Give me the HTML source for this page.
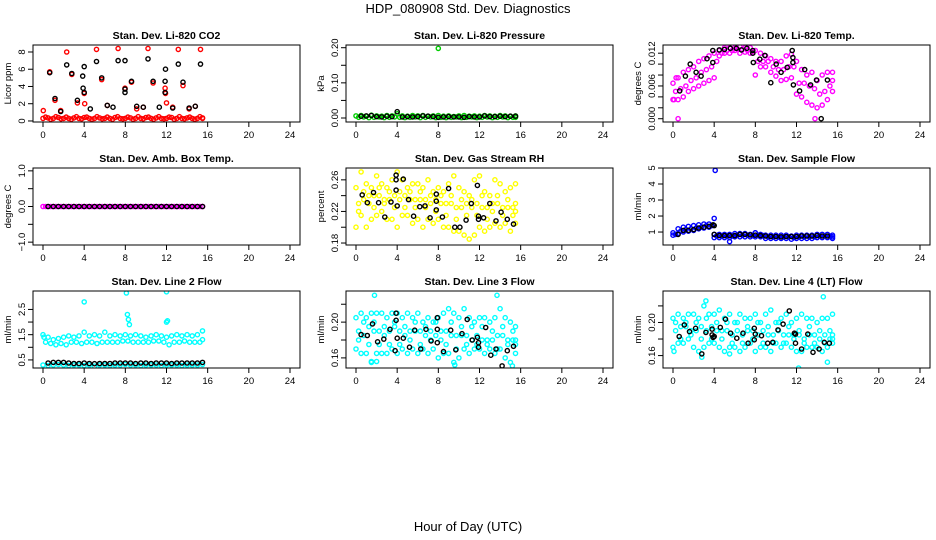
<!DOCTYPE html>
<html><head><meta charset="utf-8">
<style>
html,body{margin:0;padding:0;background:#fff;}
svg{display:block;font-family:"Liberation Sans",sans-serif;}
</style></head>
<body>
<svg id="chart" width="936" height="540" viewBox="0 0 936 540">
<text x="468" y="13" text-anchor="middle" font-size="13">HDP_080908  Std. Dev. Diagnostics</text>
<text x="468" y="531" text-anchor="middle" font-size="13">Hour of Day (UTC)</text>
</svg>
<script>
// shared time grids (hours UTC)
const T  = [0,0.5,1,1.5,2,2.5,3,3.5,4,4.5,5,5.5,6,6.5,7,7.5,8,8.5,9,9.5,10,10.5,11,11.5,12,12.5,13,13.5,14,14.5,15,15.5];
const T2 = [0.25,0.75,1.25,1.75,2.25,2.75,3.25,3.75,4.25,4.75,5.25,5.75,6.25,6.75,7.25,7.75,8.25,8.75,9.25,9.75,10.25,10.75,11.25,11.75,12.25,12.75,13.25,13.75,14.25,14.75,15.25,15.5];
const TB = [0.5,1,1.5,2,2.5,3,3.5,4,4.5,5,5.5,6,6.5,7,7.5,8,8.5,9,9.5,10,10.5,11,11.5,12,12.5,13,13.5,14,14.5,15,15.5];
const xTicks = [0,4,8,12,16,20,24];

// Panel 1: CO2
const co2Base1 = [0.3,0.35,0.3,0.4,0.3,0.3,0.35,0.3,0.4,0.3,0.3,0.35,0.3,0.3,0.4,0.3,0.3,0.35,0.3,0.3,0.4,0.3,0.35,0.3,0.3,0.4,0.3,0.3,0.35,0.3,0.3,0.35];
const co2Base2 = [0.45,0.2,0.5,0.25,0.45,0.2,0.5,0.25,0.45,0.2,0.5,0.25,0.45,0.2,0.5,0.25,0.45,0.2,0.5,0.25,0.45,0.2,0.5,0.25,0.45,0.2,0.5,0.25,0.45,0.2,0.5,0.3];
const co2RedT = [0.03,0.65,1.17,1.72,2.3,2.8,3.34,4.0,4.05,5.2,5.7,6.25,7.3,7.97,8.6,9.1,9.75,10.2,10.7,11.86,11.9,12.0,12.6,13.15,13.6,14.2,14.8,15.3];
const co2RedY = [1.2,5.7,2.4,1.2,8.0,5.4,2.1,3.2,2.0,8.3,4.8,1.8,8.4,3.8,4.5,1.4,1.6,8.4,4.4,3.8,3.2,2.1,1.6,8.3,4.1,1.4,1.7,8.3];
const co2BlkT = [0.65,1.17,1.72,2.3,2.8,3.34,3.86,3.9,4.0,4.0,4.6,5.2,5.7,6.25,6.8,7.3,7.97,7.97,7.97,8.6,9.1,9.75,10.2,10.7,11.3,11.86,11.86,11.9,12.6,13.15,13.6,14.2,14.8,15.3];
const co2BlkY = [5.6,2.6,1.1,6.5,5.5,2.4,5.2,3.8,3.3,6.3,1.4,6.9,5.0,1.8,1.6,7.0,7.0,3.7,3.3,4.6,1.7,1.6,7.2,4.6,1.6,4.6,3.3,6.0,1.5,6.6,4.5,1.5,1.7,6.6];

// Panel 2: pressure
const presG1 = [0.006,0.007,0.005,0.008,0.006,0.005,0.007,0.006,0.012,0.006,0.005,0.007,0.006,0.007,0.005,0.006,0.007,0.005,0.006,0.004,0.006,0.007,0.005,0.006,0.005,0.007,0.006,0.005,0.007,0.006,0.005,0.006];
const presG2 = [0.002,0.003,0.001,0.002,0.003,0.001,0.002,0.003,0.002,0.001,0.002,0.003,0.001,0.002,0.003,0.001,0.002,0.001,0.002,0.003,0.001,0.002,0.003,0.001,0.002,0.003,0.001,0.002,0.003,0.001,0.002,0.002];
const presOutT = [8.0];
const presOutY = [0.198];
const presBlk = [0.005,0.006,0.007,0.004,0.003,0.005,0.004,0.018,0.003,0.004,0.003,0.004,0.006,0.005,0.004,0.002,0.003,0.004,0.003,0.003,0.002,0.004,0.003,0.003,0.006,0.004,0.004,0.005,0.004,0.005,0.005];

// Panel 3: Li-820 temp
const tmpHi  = [.0065,.0075,.0085,.009,.0095,.0105,.011,.0115,.012,.0125,.013,.013,.013,.0132,.013,.013,.0125,.012,.0115,.011,.0105,.0105,.0115,.0118,.0105,.009,.008,.0085,.007,.008,.0085,.0085];
const tmpLo  = [.0035,.0035,.004,.005,.0055,.006,.0065,.007,.0075,.0115,.012,.012,.0125,.012,.0122,.012,.008,.0095,.0095,.0085,.0078,.007,.0072,.0075,.0045,.004,.003,.0025,.002,.0025,.0035,.005];
const tmpMid = [.005,.0055,.006,.007,.0075,.0085,.009,.0095,.0105,.012,.0125,.0125,.0128,.0127,.0125,.0122,.0105,.0105,.0105,.0095,.009,.009,.0095,.0095,.0065,.0065,.006,.0055,.0045,.005,.006,.007];
const tmpOutT = [0.5,13.8,0.1,0.3];
const tmpOutY = [0.0,0.0,0.0035,0.0075];
const tmpBlkT = [0.65,1.2,1.67,2.24,2.73,3.3,3.87,3.87,4.5,5.0,5.58,6.15,6.65,7.18,7.75,7.75,7.8,8.43,8.93,9.5,10.03,10.5,11.1,11.58,11.65,11.65,11.7,12.3,12.8,13.37,13.94,14.4,15.0];
const tmpBlkY = [.0051,.0078,.010,.0085,.0078,.011,.0103,.0125,.0126,.0127,.0129,.0129,.0126,.0129,.0125,.012,.0103,.0109,.0116,.0066,.010,.0085,.0094,.0125,.0112,.0103,.0062,.0051,.009,.0062,.0071,.0,.0071];

// Panel 4: ambient box temp
const ambMag = [0,0,0,0,0,0,0,0,0,0,0,0,0,0,0,0,0,0,0,0,0,0,0,0,0,0,0,0,0,0,0,0];
const ambBlk = [0,0,0,0,0,0,0,0,0,0,0,0,0,0,0,0,0,0,0,0,0,0,0,0,0,0,0,0,0,0,0];

// Panel 5: gas stream RH
const rhHi  = [.25,.27,.255,.25,.265,.255,.25,.26,.27,.26,.25,.255,.255,.25,.26,.245,.25,.245,.255,.265,.25,.245,.24,.26,.265,.245,.24,.26,.255,.245,.25,.255];
const rhMid = [.23,.235,.24,.24,.24,.235,.235,.24,.245,.24,.235,.235,.235,.235,.24,.235,.23,.23,.23,.225,.225,.23,.225,.23,.225,.225,.23,.23,.225,.225,.225,.23];
const rhLo  = [.20,.215,.20,.21,.215,.22,.21,.21,.20,.215,.215,.205,.21,.20,.21,.205,.21,.20,.2,.195,.195,.19,.185,.19,.2,.195,.2,.205,.2,.205,.195,.205];
const rhMid2 = [.22,.245,.23,.225,.25,.23,.245,.225,.235,.225,.245,.225,.245,.225,.23,.22,.24,.215,.24,.21,.235,.215,.235,.215,.24,.21,.22,.24,.215,.235,.215,.22];
const rhBlkT = [0.6,1.1,1.7,2.2,2.8,3.4,3.9,3.9,3.9,4.0,4.6,5.1,5.6,6.2,6.7,7.2,7.8,7.8,7.8,8.4,9.0,9.6,10.1,10.7,11.2,11.8,11.9,11.9,12.4,13.0,13.6,14.1,14.7,15.3];
const rhBlkY = [.241,.231,.244,.231,.213,.232,.266,.26,.247,.227,.261,.235,.214,.226,.227,.212,.242,.233,.222,.213,.249,.2,.2,.209,.23,.253,.214,.21,.212,.23,.208,.219,.21,.204];

// Panel 6: sample flow
const sfHi = [.95,1.2,1.3,1.35,1.4,1.45,1.5,1.5,.85,.85,.85,.85,.9,.9,.9,.85,.95,.85,.8,.8,.8,.8,.8,.75,.8,.8,.8,.8,.85,.85,.85,.8];
const sfLo = [.8,.9,1.0,1.05,1.1,1.2,1.25,1.3,.65,.65,.65,.65,.7,.7,.7,.7,.7,.7,.6,.6,.6,.6,.6,.55,.6,.6,.6,.6,.65,.65,.65,.6];
const sfMid = [.85,1.05,1.15,1.2,1.25,1.3,1.4,1.4,.75,.75,.75,.75,.8,.8,.8,.78,.8,.78,.7,.7,.7,.7,.7,.65,.7,.7,.7,.7,.75,.75,.75,.7];
const sfOutT = [4.1,4.0,5.5,8.0];
const sfOutY = [4.85,1.85,0.4,0.95];
const sfBlkT = [0.5,1,1.5,2,2.5,3,3.5,3.9,4,4,4.5,5,5.5,6,6.5,7,7.5,8,8.5,9,9.5,10,10.5,11,11.5,12,12.5,13,13.5,14,14.5,15];
const sfBlkY = [.85,1.1,1.1,1.15,1.25,1.3,1.35,1.45,1.4,.85,.78,.78,.78,.78,.85,.85,.82,.8,.78,.75,.72,.72,.7,.72,.72,.72,.75,.75,.75,.78,.75,.75];

// Panel 7: line 2 flow
const l2Hi = [1.5,1.4,1.3,1.35,1.4,1.45,1.4,1.45,1.6,1.45,1.5,1.45,1.6,1.45,1.5,1.45,1.5,1.45,1.5,1.45,1.4,1.45,1.5,1.45,1.4,1.45,1.5,1.45,1.5,1.45,1.5,1.65];
const l2Lo = [1.2,1.15,1.1,1.15,1.1,1.2,1.2,1.15,1.2,1.2,1.15,1.2,1.2,1.2,1.2,1.25,1.25,1.2,1.2,1.2,1.2,1.25,1.25,1.2,1.1,1.2,1.2,1.25,1.2,1.2,1.2,1.3];
const l2Bot = [0.3,0.28,0.3,0.32,0.3,0.28,0.3,0.3,0.28,0.3,0.25,0.3,0.3,0.28,0.3,0.3,0.32,0.3,0.3,0.28,0.3,0.3,0.3,0.28,0.3,0.3,0.3,0.28,0.3,0.3,0.3,0.32];
const l2OutT = [4.0,8.1,12.0,8.2,8.3,8.4,12.0,12.1,0.1];
const l2OutY = [2.8,3.15,3.2,2.3,2.1,1.9,2.0,2.05,1.4];
const l2Blk = [0.38,0.4,0.4,0.4,0.38,0.36,0.36,0.38,0.36,0.35,0.36,0.36,0.36,0.38,0.38,0.38,0.38,0.36,0.38,0.38,0.36,0.38,0.38,0.38,0.36,0.38,0.38,0.38,0.38,0.38,0.4];

// Panel 8: line 3 flow
const l3Hi  = [.205,.21,.205,.21,.21,.21,.205,.21,.21,.205,.21,.205,.21,.2,.205,.2,.205,.21,.215,.21,.205,.215,.205,.2,.205,.205,.2,.205,.215,.205,.2,.195];
const l3Mid = [.19,.185,.195,.19,.19,.185,.19,.195,.19,.185,.19,.19,.19,.185,.19,.185,.18,.19,.185,.185,.185,.185,.18,.185,.18,.18,.18,.185,.185,.18,.18,.18];
const l3Lo  = [.17,.165,.165,.155,.165,.165,.165,.17,.165,.17,.165,.17,.165,.17,.165,.17,.16,.165,.165,.155,.16,.17,.165,.17,.17,.165,.17,.165,.17,.16,.155,.165];
const l3Mid2 = [.18,.2,.175,.2,.175,.195,.175,.2,.175,.195,.18,.2,.175,.195,.18,.2,.19,.175,.2,.17,.195,.175,.195,.175,.195,.175,.19,.17,.195,.175,.19,.175];
const l3OutT = [1.8,13.7,9.6,15.2,1.5,2.0];
const l3OutY = [.23,.23,.152,.151,.156,.156];
const l3BlkT = [0.5,1.1,1.6,2.1,2.7,3.3,3.8,3.9,3.9,4.0,4.6,5.2,5.7,6.3,6.8,7.3,7.9,7.9,7.9,8.5,9.2,9.7,10.3,10.8,11.3,11.8,11.9,11.9,12.6,13.1,13.6,14.2,14.7,15.3];
const l3BlkY = [.186,.185,.198,.178,.181,.192,.168,.202,.21,.182,.182,.172,.191,.17,.192,.179,.205,.192,.177,.167,.191,.169,.187,.203,.18,.183,.177,.172,.194,.163,.17,.151,.168,.173];

// Panel 9: line 4 (LT) flow
const l4Hi  = [.205,.21,.205,.21,.21,.205,.22,.21,.21,.215,.205,.21,.2,.21,.205,.205,.21,.2,.21,.215,.2,.205,.21,.2,.205,.21,.205,.205,.2,.205,.205,.21];
const l4Mid = [.19,.195,.195,.19,.19,.195,.19,.195,.19,.19,.19,.185,.19,.185,.19,.19,.185,.19,.185,.185,.19,.185,.185,.185,.185,.18,.185,.185,.18,.185,.18,.185];
const l4Lo  = [.17,.175,.175,.18,.17,.165,.17,.175,.175,.17,.165,.17,.17,.165,.17,.175,.165,.17,.17,.165,.175,.17,.175,.17,.165,.165,.17,.17,.17,.165,.17,.175];
const l4Mid2 = [.2,.18,.2,.185,.2,.18,.205,.18,.2,.18,.2,.175,.2,.175,.195,.18,.2,.175,.195,.175,.2,.175,.195,.18,.19,.175,.195,.175,.19,.175,.19,.18];
const l4OutT = [0.1,3.2,14.6,12.2,2.8,5.5,15.0];
const l4OutY = [.165,.226,.231,.145,.158,.162,.152];
const l4BlkT = [0.6,1.1,1.6,2.2,2.8,3.2,3.8,3.8,3.9,4.0,4.6,5.1,5.6,6.2,6.8,7.3,7.9,7.9,8.0,8.6,9.2,9.7,10.2,10.7,11.3,11.8,11.9,11.9,12.5,13.1,13.6,14.2,14.7,15.2];
const l4BlkY = [.183,.197,.189,.193,.162,.188,.192,.185,.182,.183,.194,.204,.187,.181,.187,.175,.193,.179,.186,.184,.175,.176,.191,.198,.214,.187,.186,.175,.168,.186,.164,.168,.176,.175];

const svg = document.getElementById('chart');
const NS = 'http://www.w3.org/2000/svg';
function mk(tag, attrs, parent){
  const e = document.createElementNS(NS, tag);
  for (const k in attrs) e.setAttribute(k, attrs[k]);
  (parent||svg).appendChild(e);
  return e;
}

const panels = [
 {key:'co2', title:'Stan. Dev. Li-820 CO2', ylab:'Licor ppm', col:0,row:0, ymin:-0.12, ymax:8.81, ticks:[0,2,4,6,8], labels:['0','2','4','6','8'],
  series:[[T,co2Base1,'#ff0000'],[T2,co2Base2,'#ff0000'],[co2RedT,co2RedY,'#ff0000'],[co2BlkT,co2BlkY,'#000000']]},
 {key:'pressure', title:'Stan. Dev. Li-820 Pressure', ylab:'kPa', col:1,row:0, ymin:-0.0114, ymax:0.2077, ticks:[0,0.05,0.1,0.15,0.2], labels:['0.00','','0.10','','0.20'],
  series:[[T,presG1,'#00cc00'],[T2,presG2,'#00cc00'],[presOutT,presOutY,'#00cc00'],[TB,presBlk,'#000000']]},
 {key:'temp', title:'Stan. Dev. Li-820 Temp.', ylab:'degrees C', col:2,row:0, ymin:-0.0006, ymax:0.0135, ticks:[0,0.002,0.004,0.006,0.008,0.01,0.012], labels:['0.000','','','0.006','','','0.012'],
  series:[[T,tmpHi,'#ff00ff'],[T,tmpLo,'#ff00ff'],[T2,tmpMid,'#ff00ff'],[tmpOutT,tmpOutY,'#ff00ff'],[tmpBlkT,tmpBlkY,'#000000']]},
 {key:'ambbox', title:'Stan. Dev. Amb. Box Temp.', ylab:'degrees C', col:0,row:1, ymin:-1.08, ymax:1.08, ticks:[-1,-0.5,0,0.5,1], labels:['\u22121.0','','0.0','','1.0'],
  series:[[T,ambMag,'#ff00ff'],[T2,ambMag,'#ff00ff'],[TB,ambBlk,'#000000']]},
 {key:'rh', title:'Stan. Dev. Gas Stream RH', ylab:'percent', col:1,row:1, ymin:0.1775, ymax:0.275, ticks:[0.18,0.2,0.22,0.24,0.26], labels:['0.18','','0.22','','0.26'],
  series:[[T,rhHi,'#ffff00'],[T,rhLo,'#ffff00'],[T2,rhMid,'#ffff00'],[T2,rhMid2,'#ffff00'],[rhBlkT,rhBlkY,'#000000']]},
 {key:'sampleflow', title:'Stan. Dev. Sample Flow', ylab:'ml/min', col:2,row:1, ymin:0.19, ymax:5.0, ticks:[1,2,3,4,5], labels:['1','2','3','4','5'],
  series:[[T,sfHi,'#0000ff'],[T,sfLo,'#0000ff'],[T2,sfMid,'#0000ff'],[sfOutT,sfOutY,'#0000ff'],[sfBlkT,sfBlkY,'#000000']]},
 {key:'line2', title:'Stan. Dev. Line 2 Flow', ylab:'ml/min', col:0,row:2, ymin:0.18, ymax:3.23, ticks:[0.5,1,1.5,2,2.5], labels:['0.5','','1.5','','2.5'],
  series:[[T,l2Hi,'#00ffff'],[T2,l2Lo,'#00ffff'],[T,l2Bot,'#00ffff'],[l2OutT,l2OutY,'#00ffff'],[TB,l2Blk,'#000000']]},
 {key:'line3', title:'Stan. Dev. Line 3 Flow', ylab:'ml/min', col:1,row:2, ymin:0.1487, ymax:0.2348, ticks:[0.16,0.18,0.2,0.22], labels:['0.16','','0.20',''],
  series:[[T,l3Hi,'#00ffff'],[T,l3Lo,'#00ffff'],[T2,l3Mid,'#00ffff'],[T2,l3Mid2,'#00ffff'],[l3OutT,l3OutY,'#00ffff'],[l3BlkT,l3BlkY,'#000000']]},
 {key:'line4', title:'Stan. Dev. Line 4 (LT) Flow', ylab:'ml/min', col:2,row:2, ymin:0.145, ymax:0.238, ticks:[0.16,0.18,0.2,0.22], labels:['0.16','','0.20',''],
  series:[[T,l4Hi,'#00ffff'],[T,l4Lo,'#00ffff'],[T2,l4Mid,'#00ffff'],[T2,l4Mid2,'#00ffff'],[l4OutT,l4OutY,'#00ffff'],[l4BlkT,l4BlkY,'#000000']]}
];

const colLeft = [33,346,663];
const rowTop = [45,168,291];
const PW = 267, PH = 77;

panels.forEach(p => {
  const L = colLeft[p.col], Tp = rowTop[p.row], B = Tp + PH, R = L + PW;
  const g = mk('g', {});
  
  
  const xs = t => L + 10 + t * (PW - 20) / 24;
  const ys = v => B - (v - p.ymin) / (p.ymax - p.ymin) * PH;

  const clipId = 'clip-' + p.key;
  const cp = mk('clipPath', {id: clipId}, g);
  mk('rect', {x:L, y:Tp, width:PW, height:PH}, cp);

  const title = mk('text', {x:(L+R)/2, y:Tp-6, 'text-anchor':'middle', 'font-size':'10.5', 'font-weight':'bold'}, g);
  title.textContent = p.title;
  
  

  const ylab = mk('text', {x:0, y:0, 'text-anchor':'middle', 'font-size':'9.5', transform:`translate(${L-22},${Tp+PH/2}) rotate(-90)`}, g);
  ylab.textContent = p.ylab;
  
  

  const xa = mk('g', {}, g);
  
  
  mk('line', {x1:xs(xTicks[0]), x2:xs(xTicks[xTicks.length-1]), y1:B, y2:B, stroke:'#000'}, xa);
  xTicks.forEach(t => {
    mk('line', {x1:xs(t), x2:xs(t), y1:B, y2:B+5, stroke:'#000'}, xa);
    const tl = mk('text', {x:xs(t), y:B+16, 'text-anchor':'middle', 'font-size':'9.5'}, xa);
    tl.textContent = t;
    
    
  });
  const ya = mk('g', {}, g);
  
  
  mk('line', {x1:L, x2:L, y1:ys(p.ticks[0]), y2:ys(p.ticks[p.ticks.length-1]), stroke:'#000'}, ya);
  p.ticks.forEach((v,i) => {
    mk('line', {x1:L-5, x2:L, y1:ys(v), y2:ys(v), stroke:'#000'}, ya);
    if (p.labels[i]) {
      const yl = mk('text', {x:0, y:0, 'text-anchor':'middle', 'font-size':'9.5', transform:`translate(${L-8},${ys(v)}) rotate(-90)`}, ya);
      yl.textContent = p.labels[i];
      
      
    }
  });

  const pts = mk('g', {'clip-path':`url(#${clipId})`, fill:'none', 'stroke-width':'1.4'}, g);
  
  
  p.series.forEach(s => {
    const [ts, vs, col] = s;
    for (let i = 0; i < Math.min(ts.length, vs.length); i++) {
      const c = mk('circle', {cx:xs(ts[i]).toFixed(1), cy:ys(vs[i]).toFixed(1), r:2.1, stroke:col}, pts);
      
      
    }
  });

  const box = mk('rect', {x:L, y:Tp, width:PW, height:PH, fill:'none', stroke:'#000', 'stroke-width':'1'}, g);
  
  
});
</script>
</body></html>
